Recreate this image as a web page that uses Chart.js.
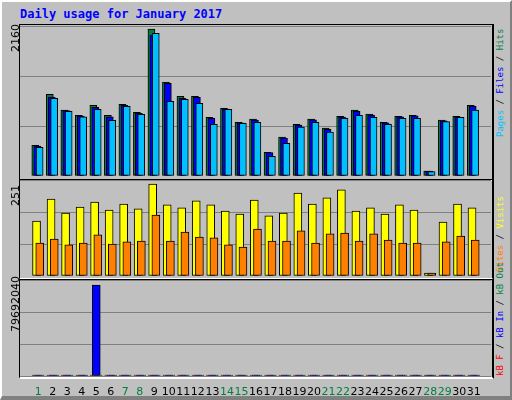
<!DOCTYPE html>
<html>
<head>
<meta charset="utf-8">
<script src="https://cdn.jsdelivr.net/npm/chart.js@4"></script>
<style>
  html, body { margin: 0; padding: 0; }
  body { width: 512px; height: 400px; background: #c0c0c0; position: relative; overflow: hidden; font-family: "DejaVu Sans", sans-serif; }
  .bevel { position: absolute; left: 0; top: 0; width: 508px; height: 394px; border-top: 2px solid #fff; border-left: 2px solid #fff; border-right: 2px solid #808080; border-bottom: 4px solid #808080; box-sizing: content-box; }
  .title { position: absolute; left: 20px; top: 7px; color: #0000ff; font: bold 12px "DejaVu Sans Mono", monospace; }
  .panel { position: absolute; box-sizing: border-box; border-top: 1px solid #000; border-left: 1px solid #000; border-right: 2px solid #000; border-bottom: 2px solid #fff; }
  canvas { position: absolute; }
  .lab { position: absolute; transform-origin: 0 0; transform: rotate(-90deg); white-space: nowrap; font-size: 11px; }
  .rlab { position: absolute; transform-origin: 0 0; transform: rotate(-90deg); white-space: nowrap; font: 9px "DejaVu Sans Mono", monospace; }
</style>
</head>
<body>
<div class="bevel"></div>
<div class="title">Daily usage for January 2017</div>

<div class="panel" style="left:19px;top:24px;width:475px;height:157px"></div>
<div class="panel" style="left:19px;top:179px;width:475px;height:101px"></div>
<div class="panel" style="left:19px;top:279px;width:475px;height:100px"></div>

<canvas id="top" style="left:20px;top:26px" width="471" height="150"></canvas>
<canvas id="mid" style="left:20px;top:180px" width="471" height="96"></canvas>
<canvas id="bot" style="left:20px;top:280px" width="471" height="120"></canvas>

<div class="lab" style="left:9px;top:52px">2160</div>
<div class="lab" style="left:9px;top:206px">251</div>
<div class="lab" style="left:9px;top:332px">79692040</div>

<div class="rlab" style="left:495px;top:137px"><span style="color:#00c0ff">Pages</span> / <span style="color:#0000ff">Files</span> / <span style="color:#008040">Hits</span></div>
<div class="rlab" style="left:495px;top:272px"><span style="color:#ff8000">Sites</span> / <span style="color:#ffff00">Visits</span></div>
<div class="rlab" style="left:495px;top:376px"><span style="color:#ff0000">kB F</span> / <span style="color:#0000ff">kB In</span> / <span style="color:#008040">kB Out</span></div>

<script>
const days = [1,2,3,4,5,6,7,8,9,10,11,12,13,14,15,16,17,18,19,20,21,22,23,24,25,26,27,28,29,30,31];
const weekend = [1,7,8,14,15,21,22,28,29];

const hits  = [451,1200,970,892,1039,892,1053,936,2160,1381,1171,1171,862,994,789,837,348,573,760,837,705,877,970,911,789,877,892,73,823,877,1039];
const files = [441,1161,960,882,1010,871,1039,921,2072,1362,1141,1156,847,985,780,820,345,558,750,825,686,865,950,895,780,870,885,73,810,865,1024];
const pages = [422,1141,950,871,980,818,1024,906,2097,1097,1127,1068,760,980,774,789,289,480,720,789,646,847,892,862,760,847,847,64,800,862,970];

const visits = [150,210,172,188,202,180,196,183,251,194,186,205,194,177,169,207,164,172,226,196,213,235,177,186,169,194,180,8,147,196,186];
const sites  = [90,101,85,90,112,87,93,95,166,95,120,106,104,85,79,128,95,95,123,90,115,117,95,115,98,90,90,8,93,109,98];

const kbF   = [900000,900000,900000,900000,900000,900000,900000,900000,900000,900000,900000,900000,900000,900000,900000,900000,900000,900000,900000,900000,900000,900000,900000,900000,900000,900000,900000,900000,900000,900000,900000];
const kbIn  = [900000,900000,900000,900000,79692040,900000,900000,900000,900000,900000,900000,900000,900000,900000,900000,900000,900000,900000,900000,900000,900000,900000,900000,900000,900000,900000,900000,900000,900000,900000,900000];
const kbOut = [900000,900000,900000,900000,900000,900000,900000,900000,900000,900000,900000,900000,900000,900000,900000,900000,900000,900000,900000,900000,900000,900000,900000,900000,900000,900000,900000,900000,900000,900000,900000];

// one day is 15px wide on a 471px plot
const XMIN = 0.27, XMAX = XMIN + 471 / 15;

const pts = (vals, shift) => vals.map((v, i) => ({ x: days[i] + shift / 15, y: v }));

const bar = (label, vals, shift, color, width) => ({
  label, data: pts(vals, shift), backgroundColor: color,
  borderColor: '#000', borderWidth: 1, borderSkipped: false,
  barThickness: width, grouped: false
});

const makeOptions = (ymax, showX) => ({
  animation: false, responsive: false, events: [],
  layout: { padding: 0 },
  plugins: { legend: { display: false }, tooltip: { enabled: false } },
  scales: {
    x: {
      type: 'linear', min: XMIN, max: XMAX, display: showX,
      grid: { display: false }, border: { display: false },
      afterBuildTicks: s => { s.ticks = days.map(d => ({ value: d })); },
      afterFit: s => { s.height = showX ? 24 : 0; },
      ticks: {
        font: { family: 'DejaVu Sans', size: 11 }, padding: 2, maxRotation: 0, autoSkip: false,
        color: c => weekend.includes(c.tick.value) ? '#008040' : '#000'
      }
    },
    y: {
      min: 0, max: ymax,
      ticks: { display: false, stepSize: ymax / 3 },
      afterFit: s => { s.width = 0; },
      grid: { color: '#808080', drawTicks: false, lineWidth: 1 },
      border: { display: false }
    }
  }
});

new Chart(document.getElementById('top'), {
  type: 'bar',
  data: { datasets: [
    bar('Pages', pages, 1.5, '#00c0ff', 7),
    bar('Files', files, -1, '#0000ff', 7),
    bar('Hits', hits, -3, '#008040', 7)
  ] },
  options: makeOptions(2160 * 150 / 147, false)
});

new Chart(document.getElementById('mid'), {
  type: 'bar',
  data: { datasets: [
    bar('Sites', sites, 1.6, '#ff8000', 8),
    bar('Visits', visits, -1.7, '#ffff00', 8)
  ] },
  options: makeOptions(251 * 96 / 92, false)
});

new Chart(document.getElementById('bot'), {
  type: 'bar',
  data: { datasets: [
    bar('kB In', kbIn, 0, '#0000ff', 8),
    bar('kB F', kbF, -2, '#ff0000', 8),
    bar('kB Out', kbOut, 2, '#008040', 8)
  ] },
  options: makeOptions(79692040 * 96 / 91, true)
});
</script>
</body>
</html>
